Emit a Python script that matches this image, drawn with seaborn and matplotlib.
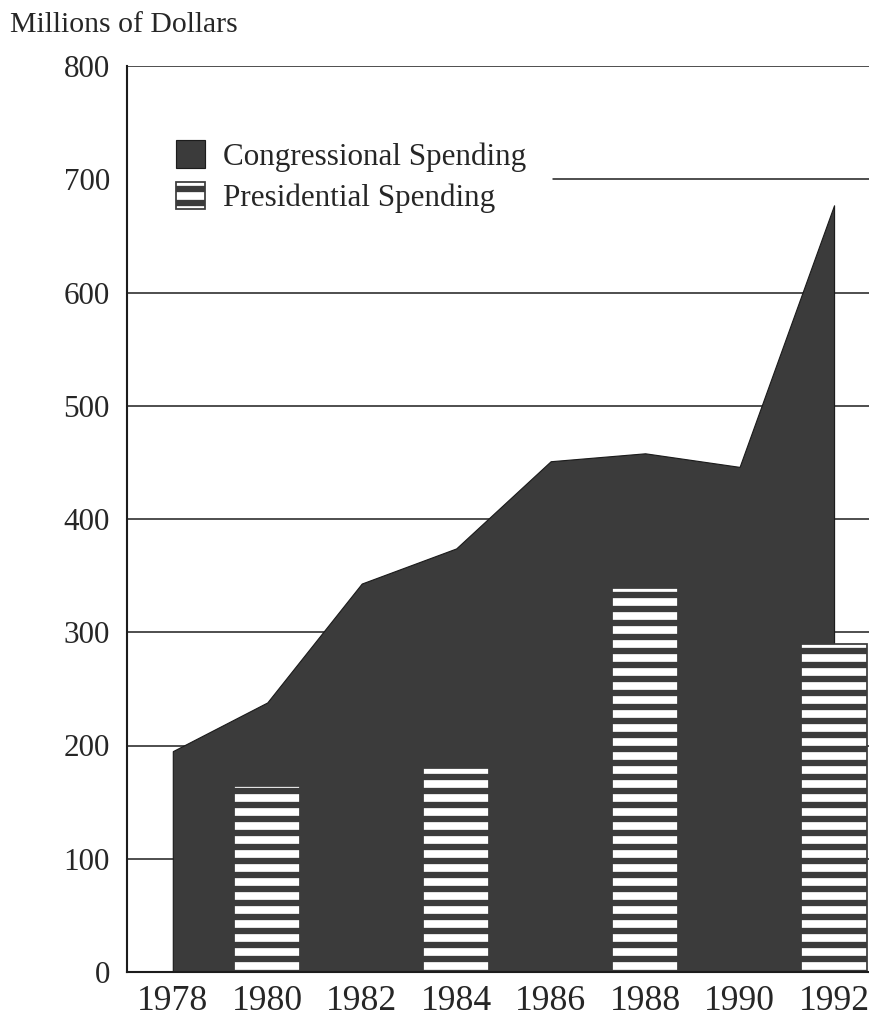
import matplotlib
matplotlib.use("Agg")
import matplotlib.pyplot as plt
import seaborn as sns

# Campaign spending, millions of dollars
years = [1978, 1980, 1982, 1984, 1986, 1988, 1990, 1992]
congressional = [195, 238, 343, 374, 451, 458, 446, 677]
pres_years = [1980, 1984, 1988, 1992]
presidential = [164, 180, 339, 290]
y_ticks = [0, 100, 200, 300, 400, 500, 600, 700, 800]
series_labels = ["Congressional Spending", "Presidential Spending"]
y_title = "Millions of Dollars"

DPI = 84
W, H = 869, 1032
DARK = "#3b3b3b"
INK = "#1c1c1c"
FS = 26.7

sns.set_theme(style="white")
plt.rcParams["font.family"] = ["Liberation Serif", "DejaVu Serif"]
plt.rcParams["hatch.linewidth"] = 5.4
plt.rcParams["hatch.color"] = DARK

fig = plt.figure(figsize=(W / DPI, H / DPI), dpi=DPI)
ax = fig.add_axes([127 / W, 60 / H, 742 / W, 906 / H])
ax.set_facecolor("white")

x_lo, x_hi = 1977.03, 1992.74

# horizontal rules (the 700 rule starts right of the legend)
grid_levels = y_ticks[1:]
grid_start = [0, 0, 0, 0, 0, 0, 0.574, 0]
for lvl, start in zip(grid_levels, grid_start):
    ax.axhline(lvl, xmin=start, xmax=1, color=INK, lw=1.3, zorder=1)

# congressional spending as a filled area
area = ax.fill_between(years, congressional, color=DARK, edgecolor=INK,
                       lw=1.0, zorder=2)

# presidential spending as striped bars
sns.barplot(x=pres_years, y=presidential, native_scale=True, width=0.35,
            color="white", saturation=1, edgecolor=DARK, linewidth=1.5,
            hatch="-", ax=ax, zorder=4)

ax.set_xlim(x_lo, x_hi)
ax.set_ylim(0, 800)
ax.set_xticks(years)
ax.set_xticklabels([str(y) for y in years], fontsize=30.5)
ax.set_yticks(y_ticks)
ax.set_yticklabels([str(v) for v in y_ticks], fontsize=FS)
ax.tick_params(axis="y", length=0, pad=14.6)
ax.tick_params(axis="x", length=0, pad=11)
ax.set_xlabel("")
ax.set_ylabel("")

sns.despine(ax=ax)
for side in ("left", "bottom"):
    ax.spines[side].set_color(INK)
    ax.spines[side].set_linewidth(1.8)
    ax.spines[side].set_zorder(5)

bar_patch = ax.patches[0]
leg = ax.legend([area, bar_patch], series_labels, loc="upper left",
                bbox_to_anchor=((164 - 127) / 742, (972 - 128) / 906),
                borderaxespad=0, frameon=False, fontsize=FS,
                handlelength=0.93, handleheight=0.97, handletextpad=0.55,
                labelspacing=0.33, borderpad=0.4)

fig.text(10 / W, 1 - 31.7 / H, y_title, ha="left", va="baseline",
         fontsize=25.5)

fig.savefig("out.png", dpi=DPI)
